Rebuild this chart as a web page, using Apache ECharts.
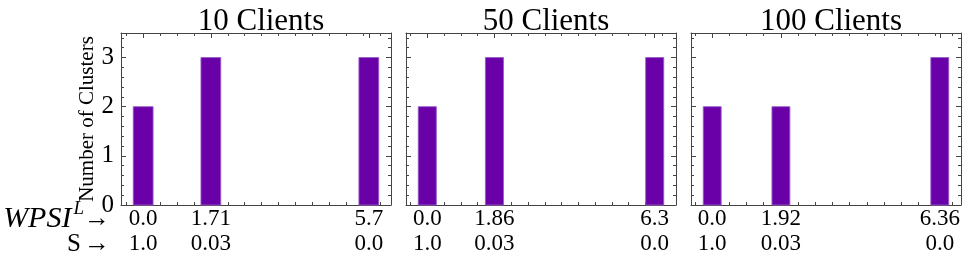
<!DOCTYPE html>
<html>
<head>
<meta charset="utf-8">
<script src="https://cdn.jsdelivr.net/npm/echarts@6/dist/echarts.min.js"></script>
<style>
html,body{margin:0;padding:0;background:#fff;}
#chart{width:967px;height:262px;}
</style>
</head>
<body>
<div id="chart"></div>
<script>
// ---- data ----
const panelTitles = ['10 Clients', '50 Clients', '100 Clients'];
const wpsi10 = [0.0, 1.71, 5.7];
const wpsi50 = [0.0, 1.86, 6.3];
const wpsi100 = [0.0, 1.92, 6.36];
const wpsiLabels10 = ['0.0', '1.71', '5.7'];
const wpsiLabels50 = ['0.0', '1.86', '6.3'];
const wpsiLabels100 = ['0.0', '1.92', '6.36'];
const sLabels10 = ['1.0', '0.03', '0.0'];
const sLabels50 = ['1.0', '0.03', '0.0'];
const sLabels100 = ['1.0', '0.03', '0.0'];
const clusters10 = [2, 3, 3];
const clusters50 = [2, 3, 3];
const clusters100 = [2, 2, 3];
const yTicks = [0, 1, 2, 3];
const yLabel = 'Number of Clusters';
const rowLabelText = '{it|WPSI}{sup|L}{ar|→}\n{s|S}{ar2|→}';

const panels = [
  {title: panelTitles[0], x: wpsi10, wl: wpsiLabels10, sl: sLabels10, y: clusters10},
  {title: panelTitles[1], x: wpsi50, wl: wpsiLabels50, sl: sLabels50, y: clusters50},
  {title: panelTitles[2], x: wpsi100, wl: wpsiLabels100, sl: sLabels100, y: clusters100}
];

// ---- layout / style ----
const FONT = 'Liberation Serif';
const gridLefts = [121, 406, 691];
const gridWidth = 270;
const gridTop = 33, gridHeight = 172;
const frameColor = '#444';
const barColor = '#6A00A8';
const BAR_W = 0.5;
const Y_MAX = 3.5;

const option = {
  animation: false,
  backgroundColor: '#fff',
  title: [], grid: [], xAxis: [], yAxis: [], series: [],
  graphic: [{
    type: 'text', x: 110, y: 207, z: 10,
    style: {
      text: rowLabelText, align: 'right', verticalAlign: 'top',
      fontFamily: FONT, fontSize: 23, fill: '#000', lineHeight: 25,
      rich: {
        it: {fontFamily: FONT, fontStyle: 'italic', fontSize: 30, lineHeight: 25},
        sup: {fontFamily: FONT, fontStyle: 'italic', fontSize: 19, verticalAlign: 'top', height: 4, lineHeight: 4, padding: [0, 0, 0, 2]},
        ar: {fontFamily: FONT, fontSize: 26, lineHeight: 25},
        ar2: {fontFamily: FONT, fontSize: 26, lineHeight: 25, padding: [0, 0, 0, 3]},
        s: {fontFamily: FONT, fontSize: 25, lineHeight: 25}
      }
    }
  }]
};

function minorList(lo, hi, step) {
  const out = [];
  const k0 = Math.ceil(lo / step - 1e-9);
  for (let k = k0; k * step <= hi + 1e-9; k++) out.push(+(k * step).toFixed(6));
  return out;
}

panels.forEach((p, i) => {
  const lo = Math.min(...p.x) - BAR_W / 2, hi = Math.max(...p.x) + BAR_W / 2;
  const m = 0.05 * (hi - lo);
  const xmin = lo - m, xmax = hi + m;
  const minorX = minorList(xmin, xmax, p.x[1] / 4);
  const minorY = minorList(0, Y_MAX, 0.2);

  option.grid.push({left: gridLefts[i], top: gridTop, width: gridWidth, height: gridHeight,
    containLabel: false, outerBoundsMode: 'none'});
  option.title.push({
    text: p.title, left: gridLefts[i] + gridWidth / 2, top: 1, textAlign: 'center',
    textStyle: {fontFamily: FONT, fontSize: 31, fontWeight: 'normal', color: '#000'}
  });

  const xBase = {type: 'value', gridIndex: i, min: xmin, max: xmax, splitLine: {show: false}};
  const xi = option.xAxis.length;
  // bottom major with labels
  option.xAxis.push(Object.assign({}, xBase, {
    position: 'bottom',
    axisLine: {show: true, onZero: false, lineStyle: {color: frameColor, width: 1}},
    axisTick: {show: true, inside: true, length: 5, customValues: p.x, lineStyle: {color: frameColor}},
    axisLabel: {
      show: true, customValues: p.x, margin: 1,
      fontFamily: FONT, fontSize: 23, color: '#000', lineHeight: 25,
      formatter: (v) => {
        let best = 0;
        p.x.forEach((xv, k) => { if (Math.abs(xv - v) < Math.abs(p.x[best] - v)) best = k; });
        return p.wl[best] + '\n' + p.sl[best];
      }
    }
  }));
  // bottom minor
  option.xAxis.push(Object.assign({}, xBase, {
    position: 'bottom', axisLine: {show: false, onZero: false},
    axisTick: {show: true, inside: true, length: 3, customValues: minorX, lineStyle: {color: frameColor}},
    axisLabel: {show: false}
  }));
  // top major
  option.xAxis.push(Object.assign({}, xBase, {
    position: 'top',
    axisLine: {show: true, onZero: false, lineStyle: {color: frameColor, width: 1}},
    axisTick: {show: true, inside: true, length: 5, customValues: p.x, lineStyle: {color: frameColor}},
    axisLabel: {show: false}
  }));
  // top minor
  option.xAxis.push(Object.assign({}, xBase, {
    position: 'top', axisLine: {show: false, onZero: false},
    axisTick: {show: true, inside: true, length: 3, customValues: minorX, lineStyle: {color: frameColor}},
    axisLabel: {show: false}
  }));

  const yBase = {type: 'value', gridIndex: i, min: 0, max: Y_MAX, splitLine: {show: false}};
  const yi = option.yAxis.length;
  option.yAxis.push(Object.assign({}, yBase, {
    position: 'left',
    axisLine: {show: true, onZero: false, lineStyle: {color: frameColor, width: 1}},
    axisTick: {show: true, inside: true, length: 5, customValues: yTicks, lineStyle: {color: frameColor}},
    axisLabel: {show: i === 0, customValues: yTicks, margin: 7, fontFamily: FONT, fontSize: 25, color: '#000'},
    name: i === 0 ? yLabel : '', nameLocation: 'middle', nameGap: 18,
    nameTextStyle: {fontFamily: FONT, fontSize: 21, color: '#000'}
  }));
  option.yAxis.push(Object.assign({}, yBase, {
    position: 'left', axisLine: {show: false, onZero: false},
    axisTick: {show: true, inside: true, length: 3, customValues: minorY, lineStyle: {color: frameColor}},
    axisLabel: {show: false}
  }));
  option.yAxis.push(Object.assign({}, yBase, {
    position: 'right',
    axisLine: {show: true, onZero: false, lineStyle: {color: frameColor, width: 1}},
    axisTick: {show: true, inside: true, length: 5, customValues: yTicks, lineStyle: {color: frameColor}},
    axisLabel: {show: false}
  }));
  option.yAxis.push(Object.assign({}, yBase, {
    position: 'right', axisLine: {show: false, onZero: false},
    axisTick: {show: true, inside: true, length: 3, customValues: minorY, lineStyle: {color: frameColor}},
    axisLabel: {show: false}
  }));

  option.series.push({
    type: 'custom', xAxisIndex: xi, yAxisIndex: yi,
    data: p.x.map((xv, k) => [xv, p.y[k]]),
    encode: {x: 0, y: 1},
    renderItem: (params, api) => {
      const xv = api.value(0), yv = api.value(1);
      const a = api.coord([xv - BAR_W / 2, yv]);
      const b = api.coord([xv + BAR_W / 2, 0]);
      return {
        type: 'rect',
        shape: {x: a[0], y: a[1], width: b[0] - a[0], height: b[1] - a[1]},
        style: {fill: barColor, stroke: 'rgba(150,90,200,0.9)', lineWidth: 1}
      };
    }
  });
});

const chart = echarts.init(document.getElementById('chart'), null, {renderer: 'canvas'});
chart.setOption(option);
</script>
</body>
</html>
